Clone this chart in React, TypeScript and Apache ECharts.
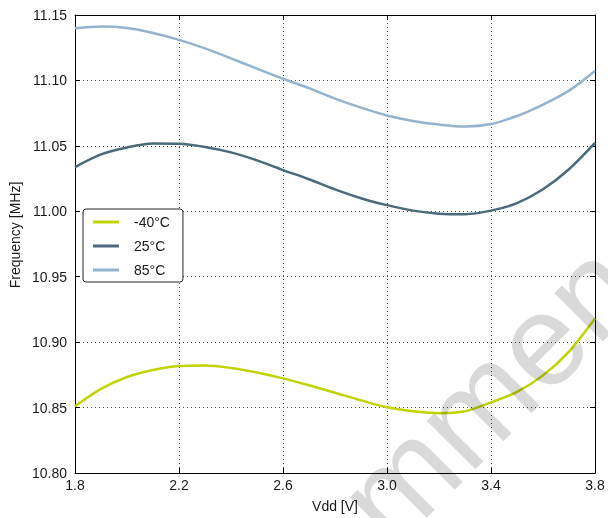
import React, { useEffect, useRef } from "react";
import * as echarts from "echarts";

const vdd = [1.8, 1.9, 2.0, 2.1, 2.2, 2.3, 2.4, 2.5, 2.6, 2.7, 2.8, 2.9, 3.0, 3.1, 3.2, 3.3, 3.4, 3.5, 3.6, 3.7, 3.8];
const freqM40 = [10.851, 10.8643, 10.8734, 10.8787, 10.8818, 10.8822, 10.8803, 10.8768, 10.8723, 10.867, 10.8613, 10.8555, 10.8502, 10.8472, 10.8457, 10.8472, 10.854, 10.862, 10.8746, 10.8928, 10.918];
const freq25 = [11.0338, 11.0435, 11.0488, 11.0518, 11.0516, 11.0492, 11.045, 11.0389, 11.0315, 11.0245, 11.0168, 11.01, 11.0047, 11.0005, 10.9982, 10.9978, 11.0005, 11.0062, 11.0168, 11.0321, 11.0522];
const freq85 = [11.1399, 11.1412, 11.1401, 11.1363, 11.131, 11.1245, 11.1169, 11.109, 11.1013, 11.0941, 11.0861, 11.0792, 11.0732, 11.069, 11.0663, 11.0648, 11.0667, 11.0728, 11.0815, 11.0922, 11.1072];
const seriesNames = ["-40°C", "25°C", "85°C"];
const xTicks = [1.8, 2.2, 2.6, 3.0, 3.4, 3.8];
const xName = "Vdd [V]";
const yName = "Frequency [MHz]";
const watermark = "Recommended";

const FONT = "'Liberation Sans', Arial, sans-serif";
const TXT = "#1a1a1a";

export default function App() {
  const ref = useRef<HTMLDivElement>(null);
  useEffect(() => {
    if (!ref.current) return;
    const chart = echarts.init(ref.current, null, { renderer: "svg" });
    const colors = ["#bfd400", "#4a6a7c", "#93b3cf"];
    const datasets = [freqM40, freq25, freq85];
    const tickCommon = { show: true, inside: true, length: 5, lineStyle: { color: "#000", width: 1 } };
    const lineCommon = { show: true, lineStyle: { color: "#000", width: 1 } };
    chart.setOption({
      animation: false,
      textStyle: { fontFamily: FONT },
      grid: { left: 75, right: 13, top: 15, bottom: 43, containLabel: false },
      xAxis: [
        {
          type: "value",
          min: 1.8,
          max: 3.8,
          position: "bottom",
          name: xName,
          nameLocation: "middle",
          nameGap: 26,
          nameTextStyle: { fontSize: 14, color: TXT, fontFamily: FONT },
          axisLine: lineCommon,
          axisTick: { ...tickCommon, customValues: xTicks },
          axisLabel: {
            customValues: xTicks,
            margin: 5,
            fontSize: 14,
            color: TXT,
            fontFamily: FONT,
            formatter: (v: number) => v.toFixed(1),
          },
          splitLine: { show: true, lineStyle: { color: "#444", width: 1, type: [1, 3] } },
        },
        {
          type: "value",
          min: 1.8,
          max: 3.8,
          position: "top",
          axisLine: lineCommon,
          axisTick: { ...tickCommon, customValues: xTicks },
          axisLabel: { show: false },
          splitLine: { show: false },
        },
      ],
      yAxis: [
        {
          type: "value",
          min: 10.8,
          max: 11.15,
          interval: 0.05,
          position: "left",
          axisLine: lineCommon,
          axisTick: tickCommon,
          axisLabel: {
            margin: 8,
            fontSize: 14,
            color: TXT,
            fontFamily: FONT,
            formatter: (v: number) => v.toFixed(2),
          },
          splitLine: { show: true, lineStyle: { color: "#444", width: 1, type: [1, 3] } },
        },
        {
          type: "value",
          min: 10.8,
          max: 11.15,
          interval: 0.05,
          position: "right",
          axisLine: lineCommon,
          axisTick: tickCommon,
          axisLabel: { show: false },
          splitLine: { show: false },
        },
      ],
      legend: {
        orient: "vertical",
        left: 83,
        top: 209,
        data: seriesNames,
        icon: "rect",
        backgroundColor: "#fff",
        borderColor: "#222",
        borderWidth: 1,
        borderRadius: 3,
        padding: [6, 13, 5, 10],
        itemWidth: 26,
        itemHeight: 3,
        itemGap: 10,
        textStyle: { fontSize: 14, lineHeight: 14, color: TXT, fontFamily: FONT, padding: [0, 0, 0, 10] },
      },
      series: seriesNames.map((name, i) => ({
        name,
        type: "line",
        xAxisIndex: 0,
        yAxisIndex: 0,
        symbol: "none",
        smooth: 0.3,
        color: colors[i],
        itemStyle: { color: colors[i] },
        lineStyle: { color: colors[i], width: 2.5 },
        data: vdd.map((x, j) => [x, datasets[i][j]]),
      })),
      graphic: [
        {
          type: "text",
          x: 15,
          y: 235,
          rotation: Math.PI / 2,
          style: {
            text: yName,
            fontSize: 14,
            fill: TXT,
            fontFamily: FONT,
            textAlign: "center",
            textVerticalAlign: "middle",
          },
        },
        {
          type: "text",
          x: 146,
          y: 735,
          rotation: Math.PI / 4,
          z: 100,
          silent: true,
          style: {
            text: watermark,
            fontSize: 130,
            fill: "rgba(0,0,0,0.15)",
            fontFamily: FONT,
            textAlign: "left",
            textVerticalAlign: "middle",
          },
        },
      ],
    });
    return () => chart.dispose();
  }, []);
  return <div ref={ref} style={{ position: "fixed", left: 0, top: 0, width: 608, height: 518 }} />;
}
